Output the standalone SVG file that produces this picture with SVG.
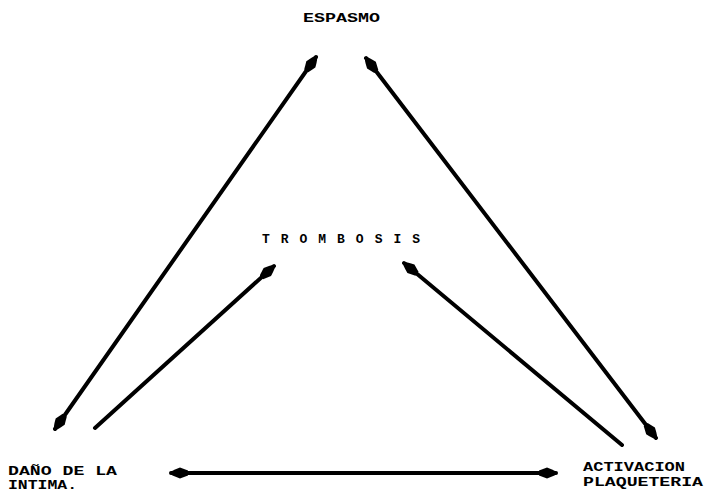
<svg xmlns="http://www.w3.org/2000/svg" width="705" height="492" viewBox="0 0 705 492">
<defs>
<style>
.lbl{font-family:"Liberation Mono","Courier New",monospace;font-weight:bold;font-size:13px;fill:#000}
.c{stroke:#000;stroke-width:4;stroke-linecap:round;fill:none}
</style>
<marker id="ah" viewBox="0 0 18 12" refX="17" refY="6" markerWidth="18" markerHeight="12" markerUnits="userSpaceOnUse" orient="auto-start-reverse">
<path d="M0,3.5 L8,0.5 Q18,4 18,6 Q18,8 8,11.5 L0,8.5 Z" fill="#000"/>
</marker>
</defs>
<rect width="705" height="492" fill="#fff"/>
<g id="espasmo"><text class="lbl" x="303" y="22" textLength="77" lengthAdjust="spacingAndGlyphs">ESPASMO</text></g>
<g id="trombosis"><text class="lbl" x="262" y="243" textLength="158" lengthAdjust="spacing">T R O M B O S I S</text></g>
<g id="dano"><text class="lbl" x="8" y="475" textLength="109" lengthAdjust="spacingAndGlyphs">DAÑO DE LA</text><text class="lbl" x="8" y="489" textLength="69" lengthAdjust="spacingAndGlyphs">INTIMA.</text></g>
<g id="activacion"><text class="lbl" x="583" y="471" textLength="102" lengthAdjust="spacingAndGlyphs">ACTIVACION</text><text class="lbl" x="583" y="486" textLength="120" lengthAdjust="spacingAndGlyphs">PLAQUETERIA</text></g>
<g id="connectors">
<line class="c" x1="55" y1="429" x2="316" y2="57" marker-start="url(#ah)" marker-end="url(#ah)"/>
<line class="c" x1="366" y1="58" x2="656" y2="438" marker-start="url(#ah)" marker-end="url(#ah)"/>
<line class="c" x1="95" y1="428" x2="274" y2="266" marker-end="url(#ah)"/>
<line class="c" x1="622" y1="445" x2="404" y2="263" marker-end="url(#ah)"/>
<line class="c" x1="171" y1="473" x2="556" y2="473" marker-start="url(#ah)" marker-end="url(#ah)"/>
</g>
</svg>
